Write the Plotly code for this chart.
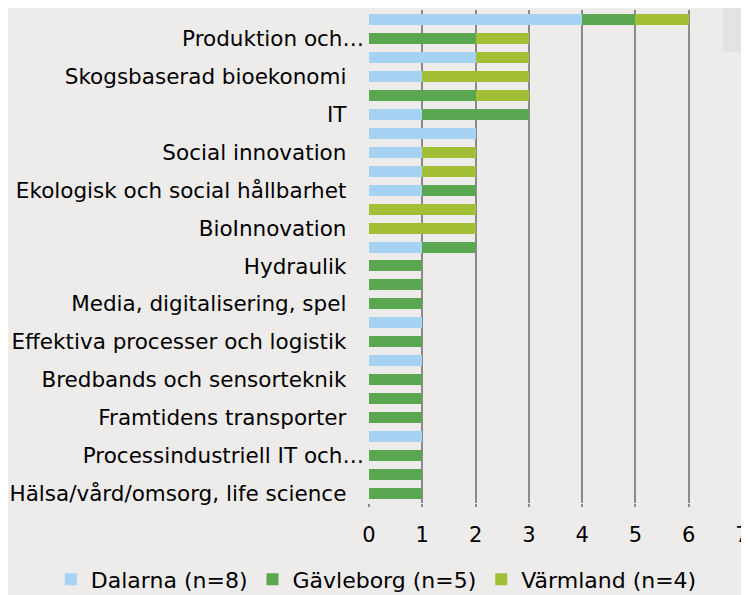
import plotly.graph_objects as go

# Row labels (top to bottom); only every other row label is shown in the original
row_labels = [
    "", "Produktion och…",
    "", "Skogsbaserad bioekonomi",
    "", "IT",
    "", "Social innovation",
    "", "Ekologisk och social hållbarhet",
    "", "BioInnovation",
    "", "Hydraulik",
    "", "Media, digitalisering, spel",
    "", "Effektiva processer och logistik",
    "", "Bredbands och sensorteknik",
    "", "Framtidens transporter",
    "", "Processindustriell IT och…",
    "", "Hälsa/vård/omsorg, life science",
]

dalarna   = [4, 0, 2, 1, 0, 1, 2, 1, 1, 1, 0, 0, 1, 0, 0, 0, 1, 0, 1, 0, 0, 0, 1, 0, 0, 0]
gavleborg = [1, 2, 0, 0, 2, 2, 0, 0, 0, 1, 0, 0, 1, 1, 1, 1, 0, 1, 0, 1, 1, 1, 0, 1, 1, 1]
varmland  = [1, 1, 1, 2, 1, 0, 0, 1, 1, 0, 2, 2, 0, 0, 0, 0, 0, 0, 0, 0, 0, 0, 0, 0, 0, 0]

series_names = ["Dalarna (n=8)", "Gävleborg (n=5)", "Värmland (n=4)"]
series_colors = ["#a6d3f3", "#5ba651", "#a2bf35"]
x_ticks = [0, 1, 2, 3, 4, 5, 6, 7]

rows = list(range(len(row_labels)))
shown = [i for i, t in enumerate(row_labels) if t]
# truncated labels (ending in an ellipsis) sit further right in the original
tick_text = [row_labels[i] if row_labels[i].endswith("…") else row_labels[i] + "\u2002\u00a0"
             for i in shown]

fig = go.Figure()
for name, vals, col in zip(series_names, [dalarna, gavleborg, varmland], series_colors):
    fig.add_trace(go.Bar(
        y=rows, x=vals, name=name, orientation="h",
        marker=dict(color=col, line=dict(width=0)),
    ))

font_family = "DejaVu Sans, Verdana, sans-serif"
fig.update_layout(
    barmode="stack",
    bargap=0.42,
    width=741, height=587,
    margin=dict(l=361, r=7, t=1.5, b=91.5, autoexpand=False),
    paper_bgcolor="#eeeceb",
    plot_bgcolor="#eeeceb",
    font=dict(family=font_family, size=21, color="#000000"),
    showlegend=True,
    legend=dict(
        orientation="h", xref="paper", x=-0.853, xanchor="left",
        yref="paper", y=-0.155, yanchor="middle",
        font=dict(size=22), bgcolor="rgba(0,0,0,0)", itemwidth=30,
        traceorder="normal", tracegroupgap=0,
    ),
    shapes=[dict(type="rect", xref="paper", yref="paper", x0=0.95, x1=1.03,
                 y0=0.915, y1=1.01, fillcolor="#e4e3e3", line=dict(width=0),
                 layer="below")],
)
fig.update_xaxes(
    range=[0, 7], tickvals=x_ticks, showgrid=True, gridcolor="#8a8a8a", gridwidth=2,
    zeroline=False, showline=False, ticks="outside", ticklen=3, tickcolor="#8a8a8a",
    tickwidth=2, ticklabelstandoff=10, fixedrange=True, automargin=False,
)
fig.update_yaxes(
    range=[len(rows) - 0.5, -0.5], tickvals=shown,
    ticktext=tick_text, showgrid=False, zeroline=False, tickfont=dict(size=21.5),
    showline=False, ticks="", ticklabelstandoff=4, fixedrange=True, automargin=False,
)

fig.write_html("out.html")
